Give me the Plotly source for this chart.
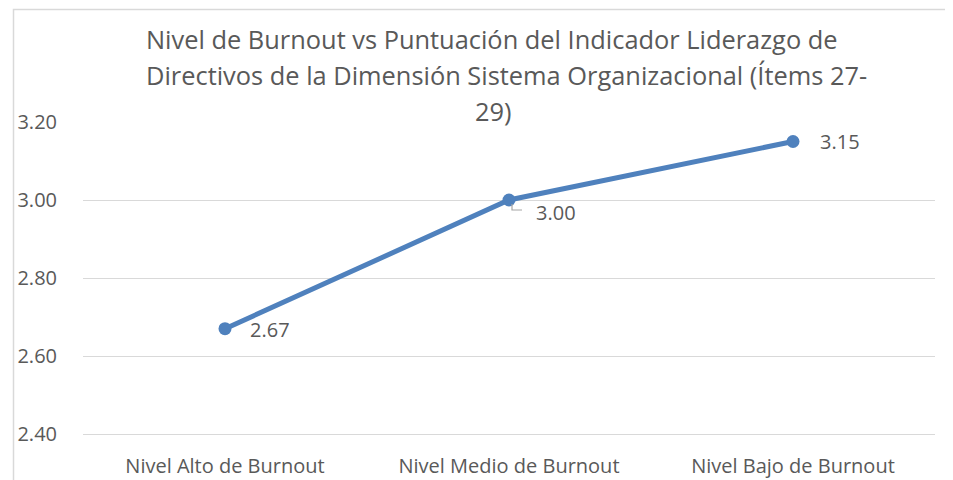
import plotly.graph_objects as go

categories = ["Nivel Alto de Burnout", "Nivel Medio de Burnout", "Nivel Bajo de Burnout"]
values = [2.67, 3.00, 3.15]
label_texts = ["2.67", "3.00", "3.15"]
y_ticks = [2.40, 2.60, 2.80, 3.00, 3.20]
title_lines = [
    "Nivel de Burnout vs Puntuación del Indicador Liderazgo de",
    "Directivos de la Dimensión Sistema Organizacional (Ítems 27-",
    "29)",
]

W, H = 953, 480
OFF = 8  # page body margin in the browser
L, R, T, B = 83 - OFF, 935 - OFF, 122 - OFF, 434 - OFF
pw, ph = R - L, B - T
FONT = "Open Sans"
GRAY = "#595959"
BLUE = "#4F81BD"

xs = list(range(len(categories)))

fig = go.Figure()
fig.add_trace(go.Scatter(
    x=xs, y=values, mode="lines+markers",
    line=dict(color=BLUE, width=5),
    marker=dict(color=BLUE, size=13),
    hoverinfo="skip", showlegend=False,
))


def px_x(x):
    return (x - OFF - L) / pw


def px_y(y):
    return (B - (y - OFF)) / ph


annotations = []
offsets = [(23, -1), (25, -12), (25, 0)]
for i, (x, v, t) in enumerate(zip(xs, values, label_texts)):
    dx, dy = offsets[i]
    annotations.append(dict(x=x, y=v, xref="x", yref="y", text=t, showarrow=False,
                            xanchor="left", yanchor="middle", xshift=dx, yshift=dy,
                            font=dict(family=FONT, size=20, color=GRAY)))

title_pos = [(492, 39), (506, 75), (493, 111)]
for (cx, cy), line in zip(title_pos, title_lines):
    annotations.append(dict(x=px_x(cx), y=px_y(cy), xref="paper", yref="paper",
                            text=line, showarrow=False, xanchor="center", yanchor="middle",
                            font=dict(family=FONT, size=25.4, color=GRAY)))

shapes = [
    dict(type="rect", xref="paper", yref="paper",
         x0=px_x(13.5), x1=px_x(990), y0=px_y(500), y1=px_y(9.5),
         line=dict(color="#D9D9D9", width=1.5), fillcolor="rgba(0,0,0,0)", layer="below"),
    dict(type="path", xref="x", yref="y", xsizemode="pixel", ysizemode="pixel",
         xanchor=xs[1], yanchor=values[1],
         path="M 3,-4 L 3,-10 L 13,-10", line=dict(color="#A6A6A6", width=1.2)),
]

fig.update_layout(
    width=W, height=H,
    margin=dict(l=L, r=W - R, t=T, b=H - B, autoexpand=False),
    paper_bgcolor="white", plot_bgcolor="white",
    annotations=annotations, shapes=shapes,
    xaxis=dict(range=[-0.5, 2.5], tickvals=xs, ticktext=categories, showgrid=False,
               zeroline=False, showline=True, linecolor="#D9D9D9", linewidth=1,
               tickfont=dict(family=FONT, size=20, color=GRAY), ticks="outside",
               ticklen=14, tickcolor="rgba(0,0,0,0)", fixedrange=True, automargin=False),
    yaxis=dict(range=[2.4, 3.2], tickvals=y_ticks, ticktext=[f"{v:.2f}" for v in y_ticks],
               showgrid=True, gridcolor="#D9D9D9", gridwidth=1, zeroline=False,
               showline=False, tickfont=dict(family=FONT, size=20, color=GRAY),
               ticks="outside", ticklen=21, tickcolor="rgba(0,0,0,0)", fixedrange=True,
               automargin=False),
)

fig.write_html("out.html")
